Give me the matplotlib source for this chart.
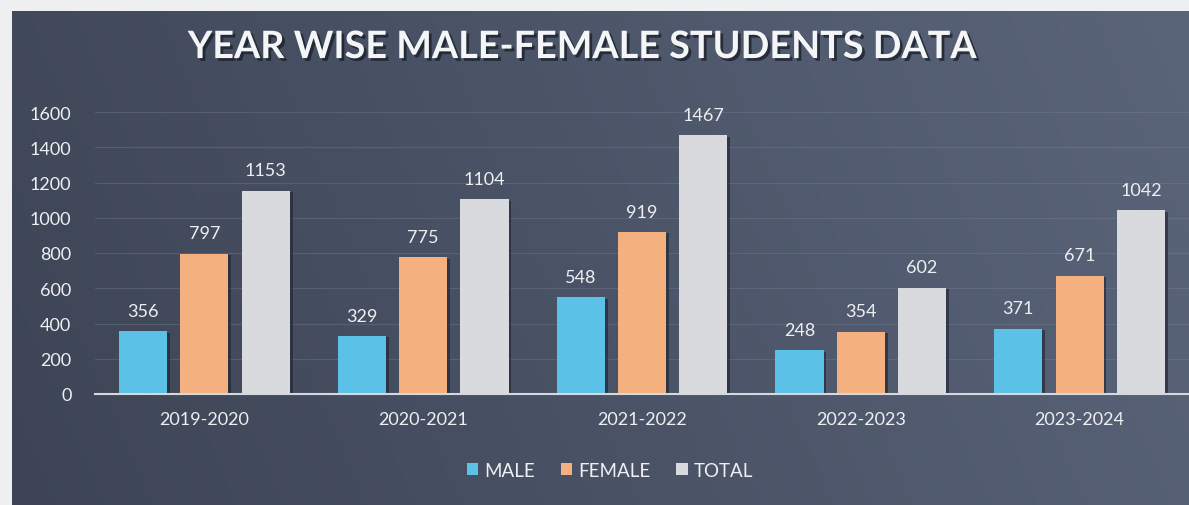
import numpy as np
import matplotlib
matplotlib.use("Agg")
import matplotlib.pyplot as plt
from matplotlib.patches import Patch
import matplotlib.patheffects as pe

years = ["2019-2020", "2020-2021", "2021-2022", "2022-2023", "2023-2024"]
male = [356, 329, 548, 248, 371]
female = [797, 775, 919, 354, 671]
total = [1153, 1104, 1467, 602, 1042]
series_names = ["MALE", "FEMALE", "TOTAL"]
series_colors = ["#5cc1e6", "#f4b17f", "#d9dade"]
yticks = [0, 200, 400, 600, 800, 1000, 1200, 1400, 1600]

plt.rcParams['font.family'] = ['Lato', 'DejaVu Sans']
txt = "#eeeff2"

fig = plt.figure(figsize=(11.89, 5.06), dpi=100, facecolor="#eeeff1")

# dark slate panel, a bit lighter towards the right
bg = fig.add_axes([12 / 1189, 0, 1 - 12 / 1189, 1 - 12 / 506], zorder=-5)
gx = np.linspace(0, 1, 300)
gy = np.linspace(0, 1, 120)
X, Y = np.meshgrid(gx, gy)
left = np.array([0x3c, 0x44, 0x55]) / 255
right = np.array([0x5b, 0x65, 0x7a]) / 255
t = np.clip(0.85 * X + 0.15 * (1 - Y), 0, 1)[..., None]
img = left * (1 - t) + right * t
bg.imshow(img, aspect="auto", extent=[0, 1, 0, 1], origin="upper")
bg.set_axis_off()

ax = fig.add_axes([95 / 1189, 111 / 506, 1 - 95 / 1189, 282 / 506])
ax.patch.set_alpha(0)

x = np.arange(len(years))
off = 0.28
w = 0.22
shadow = [pe.withSimplePatchShadow(offset=(2, -1), shadow_rgbFace="#1c2230", alpha=0.6)]
for i, (vals, col) in enumerate(zip([male, female, total], series_colors)):
    bars = ax.bar(x + (i - 1) * off, vals, w, color=col, zorder=3, path_effects=shadow)
    for b, v in zip(bars, vals):
        ax.annotate(str(v), (b.get_x() + b.get_width() / 2, v), xytext=(0, 9),
                    textcoords="offset points", ha="center", va="bottom",
                    color=txt, fontsize=13, zorder=4)

ax.set_xlim(-0.5, len(years) - 0.5)
ax.set_ylim(0, 1600)
ax.set_yticks(yticks)
ax.set_yticklabels([str(v) for v in yticks], color=txt, fontsize=13)
ax.set_xticks(x)
ax.set_xticklabels(years, color=txt, fontsize=13)
ax.tick_params(length=0, axis="y", pad=17)
ax.tick_params(length=0, axis="x", pad=12)
ax.grid(axis="y", color="#7b8496", alpha=0.35, linewidth=0.8, zorder=0)
for s in ["top", "right", "left"]:
    ax.spines[s].set_visible(False)
ax.spines["bottom"].set_color("#d5d8de")
ax.spines["bottom"].set_linewidth(1.5)
ax.spines["bottom"].set_zorder(5)

fig.text(0.489, 0.905, "YEAR WISE MALE-FEMALE STUDENTS DATA", ha="center", va="center",
         fontsize=27.2, fontweight="bold", color="#f4f5f7",
         path_effects=[pe.withSimplePatchShadow(offset=(2, -2), shadow_rgbFace="#151a24", alpha=0.7)])

handles = [Patch(facecolor=c) for c in series_colors]
leg = fig.legend(handles, series_names, loc="center", bbox_to_anchor=(0.513, 0.069), ncol=3,
                 frameon=False, fontsize=13.5, handlelength=0.6, handleheight=0.6,
                 handletextpad=0.3, columnspacing=1.4)
for t_ in leg.get_texts():
    t_.set_color(txt)

fig.savefig("out.png", dpi=100, facecolor=fig.get_facecolor())
